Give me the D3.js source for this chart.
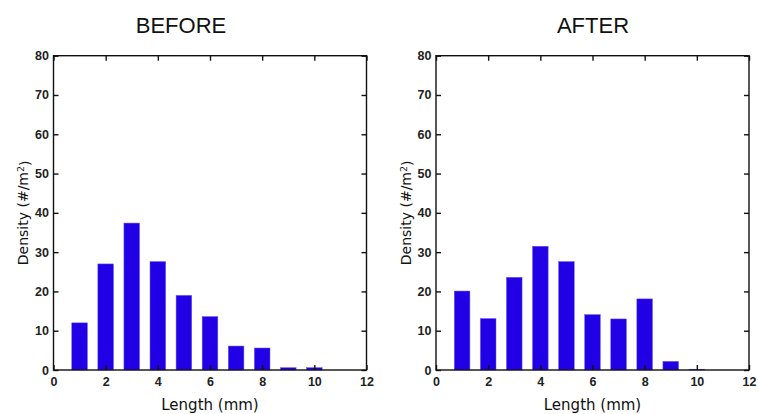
<!DOCTYPE html>
<html><head><meta charset="utf-8">
<script src="https://cdn.jsdelivr.net/npm/d3@7"></script>
<style>body{margin:0;background:#fff}svg{display:block}</style>
</head><body>
<script>
const lengthBins = [1,2,3,4,5,6,7,8,9,10];
const beforeValues = [12.0,27.0,37.4,27.6,19.0,13.6,6.1,5.6,0.6,0.6];
const afterValues = [20.1,13.1,23.6,31.5,27.6,14.1,13.0,18.1,2.2,0.2];
const xTicks = [0,2,4,6,8,10,12];
const yTicks = [0,10,20,30,40,50,60,70,80];
const panelTitles = ["BEFORE","AFTER"];

const W=758,H=414;
const svg=d3.select("body").append("svg").attr("width",W).attr("height",H);
const barColor="#2200e6";

const panels=[
  {title:panelTitles[0], values:beforeValues, x0:53.5, x1:366.5, titleX:181},
  {title:panelTitles[1], values:afterValues, x0:436, x1:749, titleX:593}
];
const plotTop=55.7, plotBottom=370;

panels.forEach(p=>{
  const x=d3.scaleLinear().domain([0,12]).range([p.x0,p.x1]);
  const y=d3.scaleLinear().domain([0,80]).range([plotBottom,plotTop]);
  const g=svg.append("g");
  const bw=x(0.6)-x(0);
  g.selectAll("rect.bar").data(lengthBins).enter().append("rect")
    .attr("class","bar")
    .attr("x",d=>x(d)-bw/2).attr("width",bw)
    .attr("y",(d,i)=>y(p.values[i])).attr("height",(d,i)=>y(0)-y(p.values[i]))
    .attr("fill",barColor).attr("stroke","#6a5cf0").attr("stroke-width",0.5);

  const tl=5;
  const axB=d3.axisBottom(x).tickValues(xTicks).tickSizeInner(-tl).tickSizeOuter(0).tickPadding(7.5);
  const axT=d3.axisTop(x).tickValues(xTicks).tickSizeInner(-tl).tickSizeOuter(0).tickFormat("");
  const axL=d3.axisLeft(y).tickValues(yTicks).tickSizeInner(-tl).tickSizeOuter(0).tickPadding(4.5);
  const axR=d3.axisRight(y).tickValues(yTicks).tickSizeInner(-tl).tickSizeOuter(0).tickFormat("");
  const gb=g.append("g").attr("transform",`translate(0,${plotBottom})`).call(axB);
  const gt=g.append("g").attr("transform",`translate(0,${plotTop})`).call(axT);
  const gl=g.append("g").attr("transform",`translate(${p.x0},0)`).call(axL);
  const gr=g.append("g").attr("transform",`translate(${p.x1},0)`).call(axR);
  [gb,gt,gl,gr].forEach(a=>{
    a.select(".domain").remove();
    a.selectAll("line").attr("stroke","#111").attr("stroke-width",1.4);
    a.selectAll("text").attr("font-family","Liberation Sans").attr("font-weight","bold")
      .attr("font-size",12.5).attr("fill","#222");
  });
  g.append("rect").attr("x",p.x0).attr("y",plotTop).attr("width",p.x1-p.x0).attr("height",plotBottom-plotTop)
    .attr("fill","none").attr("stroke","#111").attr("stroke-width",1.4);

  svg.append("text").attr("x",p.titleX).attr("y",32.5).attr("text-anchor","middle")
    .attr("font-family","Liberation Sans").attr("font-size",22).attr("fill","#111").text(p.title);
  svg.append("text").attr("x",(p.x0+p.x1)/2).attr("y",410).attr("text-anchor","middle")
    .attr("font-family","DejaVu Sans").attr("font-size",15).attr("fill","#111").text("Length (mm)");
  const yl=svg.append("text").attr("transform",`translate(${p.x0-25.5},${(plotTop+plotBottom)/2}) rotate(-90)`)
    .attr("text-anchor","middle").attr("font-family","DejaVu Sans").attr("font-size",14).attr("fill","#111");
  yl.append("tspan").text("Density (#/m");
  yl.append("tspan").attr("dy","-0.4em").attr("font-size",9.5).text("2");
  yl.append("tspan").attr("dy","0.4em").text(")");
});
</script>
</body></html>
